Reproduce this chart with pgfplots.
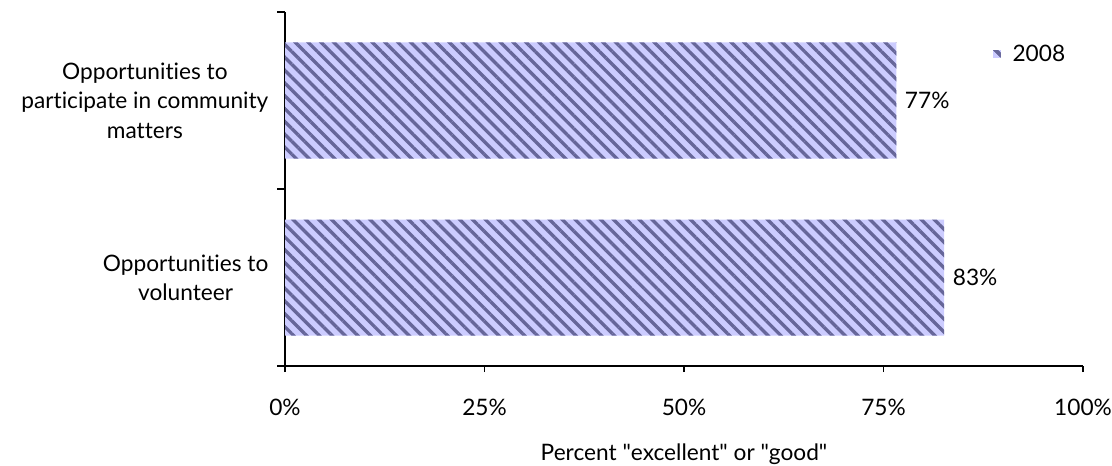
\documentclass[border=0pt]{standalone}
\usepackage{pgfplots}
\pgfplotsset{compat=1.18}
\usetikzlibrary{patterns.meta}
\usepackage{fontspec}
\setmainfont{Lato}[Ligatures={NoCommon}]
\definecolor{barfill}{HTML}{CCCCFF}
\definecolor{barstripe}{HTML}{666699}
\tikzset{stripes/.style={pattern={Lines[angle=135, distance=6.8pt, line width=2.5pt]}, pattern color=barstripe}}
\begin{document}
\begin{tikzpicture}
\useasboundingbox (0,0) rectangle (834pt,348.75pt);
\begin{axis}[
  at={(213.75pt,74.25pt)}, anchor=south west,
  scale only axis, width=598.5pt, height=265.5pt,
  font=\fontsize{17pt}{22pt}\selectfont,
  xmin=0, xmax=100, ymin=-0.5, ymax=1.5,
  axis x line=bottom, axis y line=left,
  axis line style={-, line width=1.3pt, black},
  every tick/.style={black, line width=1.3pt},
  tick align=outside,
  major tick length=4.5pt,
  xtick={0,25,50,75,100},
  xticklabels={0\%,25\%,50\%,75\%,100\%},
  xticklabel style={yshift=-17pt},
  ytick={0,1},
  yticklabels={{Opportunities to\\volunteer},{Opportunities to\\participate in community\\matters}},
  yticklabel style={align=center, xshift=-4.5pt},
  ytick style={draw=none},
  extra y ticks={-0.5,0.5,1.5},
  extra y tick labels={},
  extra y tick style={major tick length=6pt, tick align=outside, ytick style={draw=black}},
  xlabel={Percent \textquotedbl excellent\textquotedbl{} or \textquotedbl good\textquotedbl},
  xlabel style={yshift=-14pt},
  xbar, bar width=87pt,
  point meta=explicit symbolic,
  nodes near coords,
  every node near coord/.append style={anchor=west, xshift=3pt},
  legend style={at={(0.887,0.881)}, anchor=west, draw=none, fill=none, inner sep=0pt,
    column sep=7pt, font=\fontsize{17pt}{18pt}\selectfont},
  legend image code/.code={\fill[barfill] (0pt,-2.8pt) rectangle (5.6pt,2.8pt);
    \path[stripes] (0pt,-2.8pt) rectangle (5.6pt,2.8pt);},
]
\addplot[draw=none, fill=barfill, postaction={stripes}]
  coordinates {(82.6,0) [83\%] (76.6,1) [77\%]};
\addlegendentry{2008}
\end{axis}
\end{tikzpicture}
\end{document}
